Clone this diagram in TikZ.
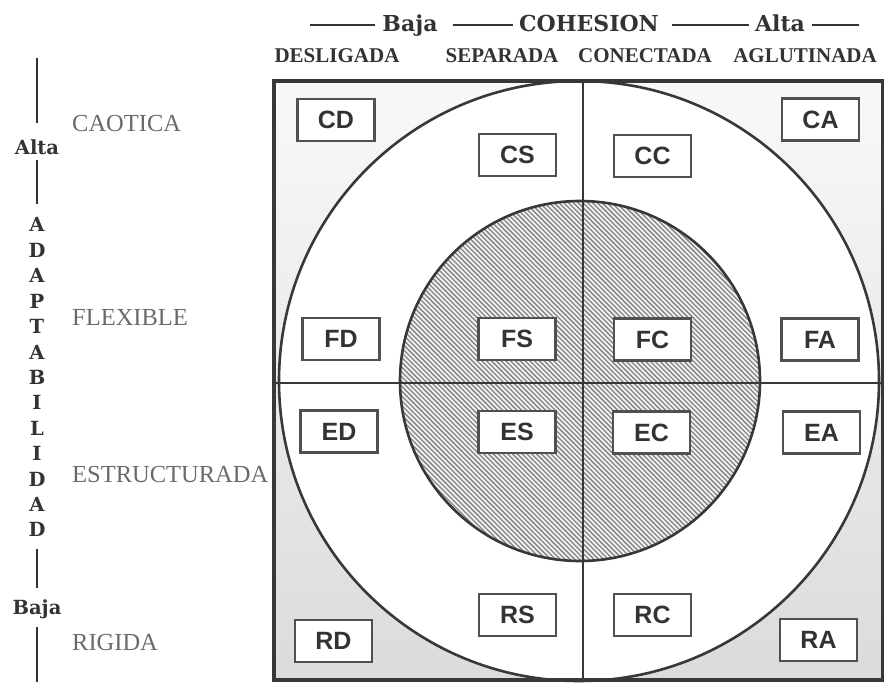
\documentclass[tikz,border=0pt]{standalone}
\usepackage{fontspec}
\setmainfont{Liberation Serif}
\newfontfamily\hdrfont{DejaVu Serif}
\newfontfamily\boxfont{Liberation Sans}
\definecolor{ink}{HTML}{333333}
\definecolor{boxline}{HTML}{505050}
\definecolor{frame}{HTML}{383838}
\definecolor{lvlgray}{HTML}{6A6A6A}
\definecolor{hatch}{HTML}{858585}
\begin{document}
\begin{tikzpicture}[x=1pt,y=-1pt,
  cell/.style={draw=boxline, line width=2.4pt, fill=white, minimum width=77pt,
    minimum height=42pt, inner sep=0pt, text=ink,
    font=\boxfont\bfseries\fontsize{25}{25}\selectfont},
  hdr/.style={font=\hdrfont\bfseries\fontsize{22}{22}\selectfont, text=ink,
    anchor=base, inner sep=0pt},
  col/.style={font=\bfseries\fontsize{21}{21}\selectfont, text=ink,
    anchor=base, inner sep=0pt},
  lvl/.style={font=\fontsize{24.5}{24.5}\selectfont, text=lvlgray,
    anchor=base west, inner sep=0pt},
  axis/.style={font=\hdrfont\bfseries\fontsize{19.5}{19.5}\selectfont, text=ink,
    anchor=base, inner sep=0pt},
  rule/.style={draw=ink, line width=1.8pt},
  divider/.style={draw=frame, line width=2.4pt},
  ring/.style={draw=frame, line width=2.6pt},
  hatchline/.style={draw=hatch, line width=1.3pt}
]
\useasboundingbox (0,0) rectangle (884,687);

% square background (gray corners)
\shade[top color=gray!5, bottom color=gray!28] (274,81) rectangle (883,680);
% big circle
\fill[white] (579,381) circle[radius=300pt];
% hatched inner circle
\fill[gray!10] (580,381) circle[radius=180pt];
\begin{scope}
  \clip (580,381) circle[radius=180pt];
  \foreach \c in {-270,-265.2,...,270}
    \draw[hatchline] ({580+\c-210},171) -- ({580+\c+210},591);
\end{scope}

% dividers
\coordinate (vtop) at (583,81);
\coordinate (vbot) at (583,680);
\coordinate (hlft) at (274,383);
\coordinate (hrgt) at (883,383);
\draw[divider] (vtop) -- (vbot);
\draw[divider] (hlft) -- (hrgt);

% circles
\draw[ring] (580,381) circle[radius=180pt];
\draw[ring] (579,381) circle[radius=300pt];
% frame
\draw[draw=frame, line width=3.4pt] (274,81) rectangle (883,680);

% boxes
\node[cell] (CD) at (336,120) {CD};
\node[cell] (CS) at (517.5,155) {CS};
\node[cell] (CC) at (652.5,156) {CC};
\node[cell] (CA) at (820.5,119.5) {CA};
\node[cell] (FD) at (341,339) {FD};
\node[cell] (FS) at (517,339) {FS};
\node[cell] (FC) at (652.5,339.5) {FC};
\node[cell] (FA) at (820,339.5) {FA};
\node[cell] (ED) at (339,431.5) {ED};
\node[cell] (ES) at (517,432) {ES};
\node[cell] (EC) at (651.5,432.5) {EC};
\node[cell] (EA) at (821.5,432.5) {EA};
\node[cell] (RD) at (333.5,641) {RD};
\node[cell] (RS) at (517.5,615) {RS};
\node[cell] (RC) at (652.5,615) {RC};
\node[cell] (RA) at (818.5,640) {RA};

% header
\node[hdr] (baja) at (410,32) {Baja};
\node[hdr] (cohesion) at (589,32) {COHESION};
\node[hdr] (alta) at (780,32) {Alta};
\coordinate (d1a) at (310,25); \coordinate (d1b) at (375,25);
\coordinate (d2a) at (453,25); \coordinate (d2b) at (513,25);
\coordinate (d3a) at (672,25); \coordinate (d3b) at (749,25);
\coordinate (d4a) at (812,25); \coordinate (d4b) at (859,25);
\draw[rule] (d1a) -- (d1b);
\draw[rule] (d2a) -- (d2b);
\draw[rule] (d3a) -- (d3b);
\draw[rule] (d4a) -- (d4b);

% column labels
\node[col] (desl) at (337,63) {DESLIGADA};
\node[col] (sepa) at (502,63) {SEPARADA};
\node[col] (cone) at (645,63) {CONECTADA};
\node[col] (aglu) at (805,63) {AGLUTINADA};

% row labels
\node[lvl] (caot) at (72,132) {CAOTICA};
\node[lvl] (flex) at (72,325) {FLEXIBLE};
\node[lvl] (estr) at (72,482) {ESTRUCTURADA};
\node[lvl] (rigi) at (72,650) {RIGIDA};

% vertical axis
\node[axis] (valta) at (37,155) {Alta};
\foreach \L [count=\i from 0] in {A,D,A,P,T,A,B,I,L,I,D,A,D}
  \node[axis] (ax\i) at (37,{232+25.4*\i}) {\L};
\node[axis] (vbaja) at (37,614) {Baja};
\coordinate (a1a) at (37,58);  \coordinate (a1b) at (37,123);
\coordinate (a2a) at (37,160); \coordinate (a2b) at (37,204);
\coordinate (a3a) at (37,549); \coordinate (a3b) at (37,588);
\coordinate (a4a) at (37,627); \coordinate (a4b) at (37,682);
\draw[rule] (a1a) -- (a1b);
\draw[rule] (a2a) -- (a2b);
\draw[rule] (a3a) -- (a3b);
\draw[rule] (a4a) -- (a4b);
\end{tikzpicture}
\end{document}
